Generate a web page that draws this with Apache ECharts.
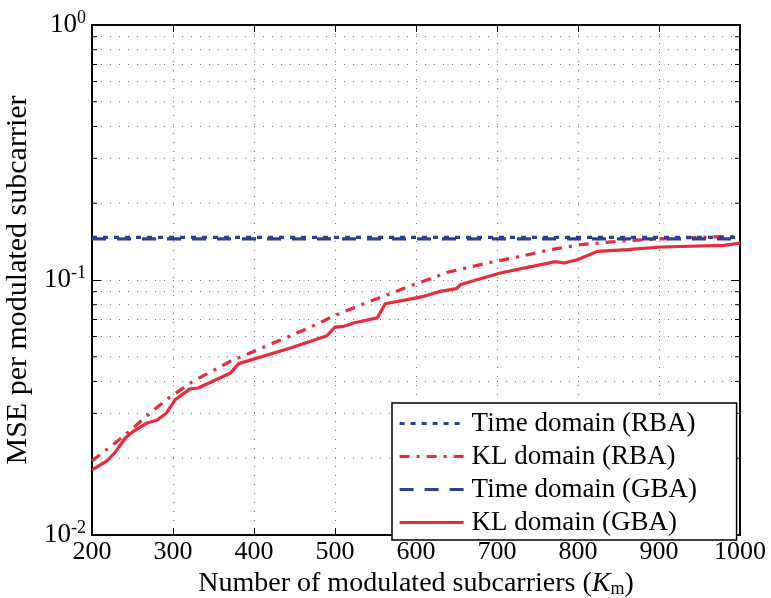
<!DOCTYPE html>
<html>
<head>
<meta charset="utf-8">
<script src="https://cdn.jsdelivr.net/npm/echarts@6/dist/echarts.min.js"></script>
<style>html,body{margin:0;padding:0;background:#fff}#c{width:771px;height:598px}</style>
</head>
<body>
<div id="c"></div>
<script>
// ---- data ----
const xTicks = [200, 300, 400, 500, 600, 700, 800, 900, 1000];
const yMinor = [0.02, 0.03, 0.04, 0.05, 0.06, 0.07, 0.08, 0.09, 0.2, 0.3, 0.4, 0.5, 0.6, 0.7, 0.8, 0.9];

const xTime = [200, 300, 400, 500, 600, 700, 800, 900, 1000];
const timeRBA = [0.147, 0.147, 0.147, 0.147, 0.147, 0.147, 0.147, 0.147, 0.147];
const timeGBA = [0.145, 0.145, 0.145, 0.145, 0.145, 0.145, 0.145, 0.145, 0.145];

const xKLRBA = [200, 239, 272, 292, 325, 371, 395, 432, 465, 502, 540, 568, 597, 626, 638, 688, 729, 766, 803, 849, 898, 960, 1000];
const klRBA  = [0.0195, 0.0244, 0.0301, 0.0340, 0.0401, 0.0480, 0.0517, 0.0580, 0.0643, 0.0731, 0.0818, 0.0884, 0.0959, 0.1033, 0.107, 0.1166, 0.1238, 0.1315, 0.1376, 0.1418, 0.1448, 0.1474, 0.1483];

const xKLGBA = [200, 218, 228, 241, 251, 268, 280, 292, 303, 321, 331, 371, 381, 445, 490, 500, 511, 523, 552, 562, 610, 630, 650, 655, 704, 772, 783, 799, 824, 861, 902, 980, 1000];
const klGBA  = [0.0180, 0.0195, 0.0210, 0.0240, 0.0255, 0.0275, 0.0282, 0.0301, 0.0340, 0.0374, 0.0377, 0.0432, 0.0470, 0.0541, 0.0605, 0.0653, 0.0658, 0.0678, 0.0710, 0.0807, 0.0863, 0.0903, 0.0925, 0.0960, 0.1065, 0.1180, 0.1166, 0.1200, 0.1295, 0.1315, 0.1347, 0.1368, 0.1396];

const names = ['Time domain (RBA)', 'KL domain (RBA)', 'Time domain (GBA)', 'KL domain (GBA)'];

// ---- chart ----
const BLUE = '#2E3F96';
const RED = '#EC2A3B';
const FONT = '"Liberation Serif", "Times New Roman", serif';
const pairs = (xs, ys) => xs.map((x, i) => [x, ys[i]]);

const chart = echarts.init(document.getElementById('c'), null, {renderer: 'canvas'});

const gridDot = {color: '#777', width: 1, type: [1, 8]};

const option = {
  animation: false,
  backgroundColor: '#fff',
  grid: {left: 92, right: 31, top: 25, bottom: 63, containLabel: false, outerBoundsMode: 'none'},
  xAxis: [{
    type: 'value', min: 200, max: 1000, interval: 100, position: 'bottom',
    axisLine: {show: true, onZero: false, lineStyle: {color: '#000', width: 2}},
    axisTick: {show: true, inside: true, length: 7, lineStyle: {color: '#000', width: 1}},
    axisLabel: {color: '#000', fontFamily: FONT, fontSize: 26, margin: 4, formatter: v => String(v)},
    splitLine: {show: true, lineStyle: gridDot},
    name: 'Number of modulated subcarriers ({i|K}{s|m})',
    nameLocation: 'middle', nameGap: 27,
    nameTextStyle: {color: '#000', fontFamily: FONT, fontSize: 28,
      rich: {i: {fontFamily: FONT, fontSize: 28, fontStyle: 'italic', color: '#000'},
             s: {fontFamily: FONT, fontSize: 18, color: '#000', padding: [10, 0, 0, 0]}}}
  }, {
    type: 'value', min: 200, max: 1000, interval: 100, position: 'top',
    axisLine: {show: true, onZero: false, lineStyle: {color: '#000', width: 2}},
    axisTick: {show: true, inside: true, length: 7, lineStyle: {color: '#000', width: 1}},
    axisLabel: {show: false}, splitLine: {show: false}
  }],
  yAxis: [{
    type: 'log', logBase: 10, min: 0.01, max: 1, position: 'left',
    axisLine: {show: true, onZero: false, lineStyle: {color: '#000', width: 2}},
    axisTick: {show: true, inside: true, length: 9, lineStyle: {color: '#000', width: 1}},
    axisLabel: {
      color: '#000', fontFamily: FONT, margin: 6,
      formatter: v => '{b|10}{s|' + Math.round(Math.log10(v)) + '}',
      rich: {b: {fontFamily: FONT, fontSize: 27, color: '#000'},
             s: {fontFamily: FONT, fontSize: 18, color: '#000', padding: [0, 0, 14, 0]}}
    },
    splitLine: {show: true, lineStyle: gridDot},
    name: 'MSE per modulated subcarrier', nameLocation: 'middle', nameGap: 59,
    nameTextStyle: {color: '#000', fontFamily: FONT, fontSize: 30}
  }, {
    type: 'log', logBase: 10, min: 0.01, max: 1, position: 'right',
    axisLine: {show: true, onZero: false, lineStyle: {color: '#000', width: 2}},
    axisTick: {show: true, inside: true, length: 9, lineStyle: {color: '#000', width: 1}},
    axisLabel: {show: false}, splitLine: {show: false}
  }],
  legend: {
    orient: 'vertical', left: 392, top: 403,
    data: names,
    backgroundColor: '#fff', borderColor: '#000', borderWidth: 1.5,
    padding: [7, 5, 4, 6], itemGap: 6, itemWidth: 64, itemHeight: 23,
    itemStyle: {opacity: 0},
    lineStyle: {width: 3.2},
    textStyle: {color: '#000', fontFamily: FONT, fontSize: 27, lineHeight: 23, width: 260, padding: [0, 0, 0, 3]}
  },
  series: [
    {
      type: 'custom', name: 'minor', silent: true, z: 1,
      data: yMinor.map(v => [200, v]),
      encode: {x: 0, y: 1},
      renderItem: (params, api) => {
        const cs = params.coordSys;
        const y = api.coord([api.value(0), api.value(1)])[1];
        const x0 = cs.x, x1 = cs.x + cs.width;
        return {type: 'group', children: [
          {type: 'line', shape: {x1: x0, y1: y, x2: x1, y2: y}, style: {stroke: '#777', lineWidth: 1, lineDash: [1, 8]}},
          {type: 'line', shape: {x1: x0, y1: y, x2: x0 + 5, y2: y}, style: {stroke: '#000', lineWidth: 1}},
          {type: 'line', shape: {x1: x1 - 5, y1: y, x2: x1, y2: y}, style: {stroke: '#000', lineWidth: 1}}
        ]};
      }
    },
    {name: names[1], type: 'line', symbol: 'none', z: 3, data: pairs(xKLRBA, klRBA),
     lineStyle: {color: RED, width: 3.2, type: [10, 7, 3, 7]}, itemStyle: {color: RED}},
    {name: names[3], type: 'line', symbol: 'none', z: 3, data: pairs(xKLGBA, klGBA),
     lineStyle: {color: RED, width: 3.2, type: 'solid'}, itemStyle: {color: RED}},
    {name: names[0], type: 'line', symbol: 'none', z: 4, data: pairs(xTime, timeRBA),
     lineStyle: {color: BLUE, width: 3.2, type: [5, 6]}, itemStyle: {color: BLUE}},
    {name: names[2], type: 'line', symbol: 'none', z: 4, data: pairs(xTime, timeGBA),
     lineStyle: {color: BLUE, width: 3.2, type: [14, 11]}, itemStyle: {color: BLUE}}
  ]
};
chart.setOption(option);
</script>
</body>
</html>
